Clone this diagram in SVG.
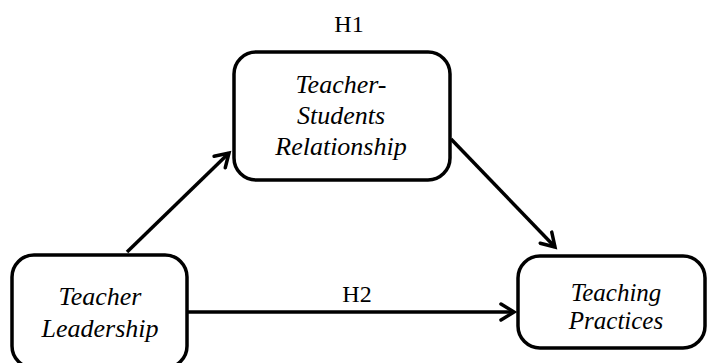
<svg xmlns="http://www.w3.org/2000/svg" width="707" height="363" viewBox="0 0 707 363">
  <style>
    .box { fill: #ffffff; stroke: #000000; stroke-width: 3.5; }
    .lbl { font-family: "Liberation Serif", "Times New Roman", serif; font-style: italic; font-size: 26px; fill: #000000; text-anchor: middle; }
    .sm { font-size: 25px; }
    .hyp { font-family: "Liberation Serif", "Times New Roman", serif; font-size: 24px; fill: #000000; text-anchor: middle; }
    .conn { stroke: #000000; stroke-width: 3.5; fill: none; }
  </style>
  <defs>
    <marker id="arrow" viewBox="0 0 20 20" refX="16" refY="10" markerWidth="20" markerHeight="20" markerUnits="userSpaceOnUse" orient="auto">
      <path d="M3,2 L16,10 L3,18" fill="none" stroke="#000000" stroke-width="3.5" stroke-linecap="round" stroke-linejoin="miter"/>
    </marker>
  </defs>
  <rect width="707" height="363" fill="#ffffff"/>
  <g id="connectors">
    <line class="conn" x1="127" y1="252" x2="229" y2="153" marker-end="url(#arrow)"/>
    <line class="conn" x1="451" y1="139" x2="555" y2="247" marker-end="url(#arrow)"/>
    <line class="conn" x1="187" y1="312" x2="514" y2="312" marker-end="url(#arrow)"/>
    <text class="hyp" x="349" y="32">H1</text>
    <text class="hyp" x="357" y="302">H2</text>
  </g>
  <g id="node-tsr">
    <rect class="box" x="234" y="52" width="216" height="128" rx="22" ry="22"/>
    <text class="lbl" x="341" y="93">Teacher-</text>
    <text class="lbl" x="341" y="124">Students</text>
    <text class="lbl" x="341" y="155">Relationship</text>
  </g>
  <g id="node-tl">
    <rect class="box" x="12" y="255" width="175" height="113" rx="22" ry="22"/>
    <text class="lbl" x="100" y="305">Teacher</text>
    <text class="lbl" x="100" y="337">Leadership</text>
  </g>
  <g id="node-tp">
    <rect class="box" x="518" y="256" width="187" height="92" rx="22" ry="22"/>
    <text class="lbl sm" x="616" y="301">Teaching</text>
    <text class="lbl sm" x="616" y="329">Practices</text>
  </g>
</svg>
